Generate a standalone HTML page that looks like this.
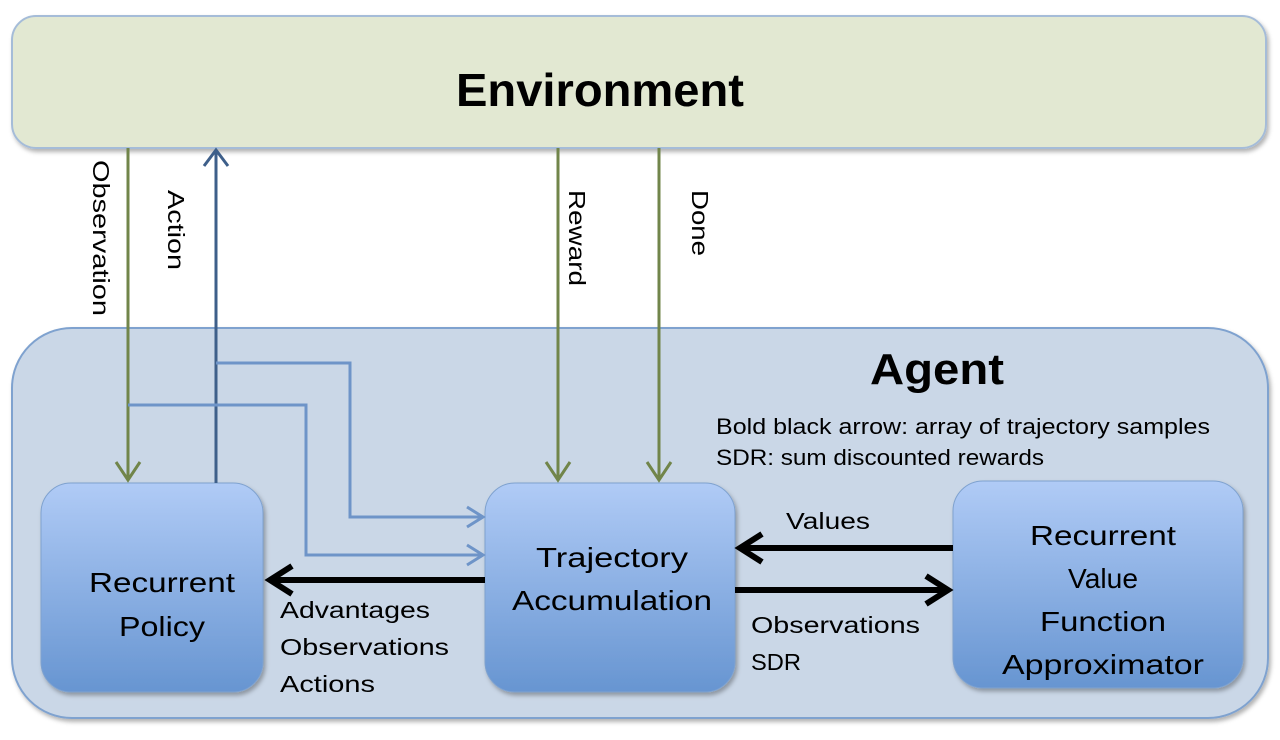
<!DOCTYPE html>
<html><head><meta charset="utf-8"><style>html,body{margin:0;padding:0;background:#fff}svg{display:block}text{font-family:"Liberation Sans",sans-serif;fill:#000}</style></head>
<body>
<svg width="1280" height="740" viewBox="0 0 1280 740" xmlns="http://www.w3.org/2000/svg">
<defs>
<linearGradient id="g" x1="0" y1="0" x2="0" y2="1"><stop offset="0" stop-color="#b0cbf6"/><stop offset="1" stop-color="#6795d1"/></linearGradient>
<filter id="sh" x="-10%" y="-10%" width="130%" height="130%"><feDropShadow dx="2" dy="3" stdDeviation="2" flood-color="#000" flood-opacity="0.3"/></filter>
</defs>
<rect x="12" y="16" width="1254" height="132" rx="24" fill="#e2e8d2" stroke="#a5bcd8" stroke-width="2" filter="url(#sh)"/>
<text x="600" y="106" text-anchor="middle" font-size="46" font-weight="bold" textLength="288" lengthAdjust="spacingAndGlyphs">Environment</text>
<rect x="12" y="328" width="1256" height="390" rx="60" fill="#cad7e7" stroke="#7fa2cf" stroke-width="2" filter="url(#sh)"/>
<text x="937" y="384" text-anchor="middle" font-size="44" font-weight="bold" textLength="134" lengthAdjust="spacingAndGlyphs">Agent</text>
<text x="716" y="434" font-size="22" textLength="494" lengthAdjust="spacingAndGlyphs">Bold black arrow: array of trajectory samples</text>
<text x="716" y="465" font-size="22" textLength="328" lengthAdjust="spacingAndGlyphs">SDR: sum discounted rewards</text>
<rect x="41" y="483" width="222" height="209" rx="30" fill="url(#g)" stroke="#7fa2cf" filter="url(#sh)"/>
<rect x="485" y="483" width="250" height="209" rx="30" fill="url(#g)" stroke="#7fa2cf" filter="url(#sh)"/>
<rect x="953" y="481" width="290" height="207" rx="30" fill="url(#g)" stroke="#7fa2cf" filter="url(#sh)"/>
<g font-size="28" text-anchor="middle">
<text x="162" y="592" textLength="146" lengthAdjust="spacingAndGlyphs">Recurrent</text>
<text x="162" y="636" textLength="86" lengthAdjust="spacingAndGlyphs">Policy</text>
<text x="612" y="567" textLength="152" lengthAdjust="spacingAndGlyphs">Trajectory</text>
<text x="612" y="610" textLength="200" lengthAdjust="spacingAndGlyphs">Accumulation</text>
<text x="1103" y="545" textLength="146" lengthAdjust="spacingAndGlyphs">Recurrent</text>
<text x="1103" y="588" textLength="70" lengthAdjust="spacingAndGlyphs">Value</text>
<text x="1103" y="631" textLength="126" lengthAdjust="spacingAndGlyphs">Function</text>
<text x="1103" y="674" textLength="202" lengthAdjust="spacingAndGlyphs">Approximator</text>
</g>
<g fill="none" stroke-width="3">
<path d="M128 148V480" stroke="#71854a"/>
<path d="M116 462L128 480L140 462" stroke="#71854a"/>
<path d="M558 148V480M659 148V480" stroke="#71854a"/>
<path d="M546 462L558 480L570 462M647 462L659 480L671 462" stroke="#71854a"/>
<path d="M216 483V152" stroke="#3e5f8a"/>
<path d="M204 166L216 150L228 166" stroke="#3e5f8a"/>
<path d="M216 363H350V517H483" stroke="#6e94c8"/>
<path d="M128 405H306V555H483" stroke="#6e94c8"/>
<path d="M467 507L483 517L467 527M467 545L483 555L467 565" stroke="#6e94c8"/>
</g>
<g fill="none" stroke="#000" stroke-width="6">
<path d="M485 580H270"/><path d="M292 566L270 580L292 594"/>
<path d="M953 548H740"/><path d="M762 534L740 548L762 562"/>
<path d="M735 590H948"/><path d="M926 576L948 590L926 604"/>
</g>
<g font-size="23">
<text x="280" y="618" textLength="150" lengthAdjust="spacingAndGlyphs">Advantages</text>
<text x="280" y="655" textLength="169" lengthAdjust="spacingAndGlyphs">Observations</text>
<text x="280" y="692" textLength="95" lengthAdjust="spacingAndGlyphs">Actions</text>
<text x="786" y="529" textLength="84" lengthAdjust="spacingAndGlyphs">Values</text>
<text x="751" y="633" textLength="169" lengthAdjust="spacingAndGlyphs">Observations</text>
<text x="751" y="670" textLength="50" lengthAdjust="spacingAndGlyphs">SDR</text>
<text transform="translate(93,160) rotate(90)" textLength="156" lengthAdjust="spacingAndGlyphs">Observation</text>
<text transform="translate(168,190) rotate(90)" textLength="80" lengthAdjust="spacingAndGlyphs">Action</text>
<text transform="translate(569,190) rotate(90)" textLength="96" lengthAdjust="spacingAndGlyphs">Reward</text>
<text transform="translate(692,190) rotate(90)" textLength="66" lengthAdjust="spacingAndGlyphs">Done</text>
</g>
</svg>
</body></html>
